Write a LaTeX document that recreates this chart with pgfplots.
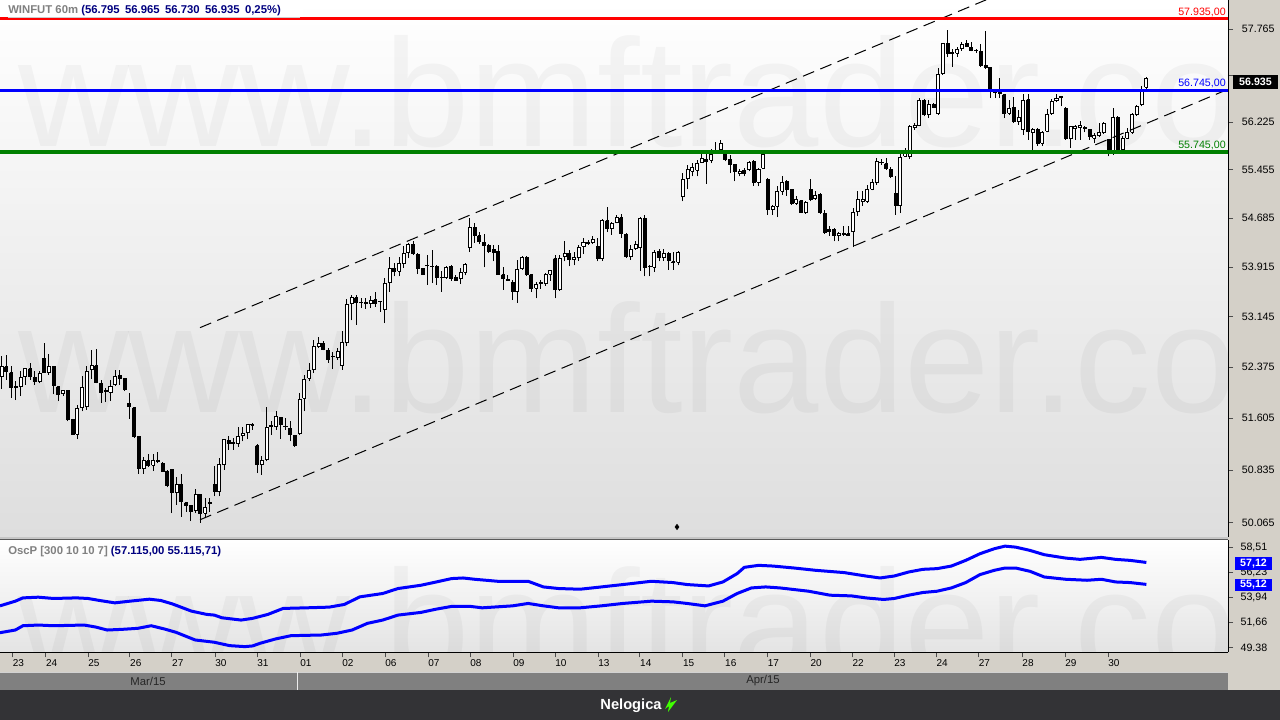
\documentclass[border=0pt]{standalone}
\usepackage{pgfplots}
\pgfplotsset{compat=1.18}
\usepackage{pgfplotstable}
\usepackage{fontspec}
\setmainfont{Liberation Sans}

\definecolor{panelgray}{RGB}{212,208,200}
\definecolor{chartbot}{RGB}{222,222,222}
\definecolor{oscbot}{RGB}{228,228,228}
\definecolor{monthbar}{RGB}{128,128,128}
\definecolor{footer}{RGB}{51,51,54}
\definecolor{navy}{RGB}{0,0,128}
\definecolor{titlegray}{RGB}{128,128,128}
\definecolor{lvlred}{RGB}{255,0,0}
\definecolor{lvlblue}{RGB}{0,0,255}
\definecolor{lvlgreen}{RGB}{0,128,0}

\newcommand\lbl{\fontsize{8}{9}\selectfont}
\newcommand\datelbl{\fontsize{7.5}{9}\selectfont}
\newcommand\wm{\fontsize{115}{115}\selectfont}

% WINFUT 60m candles: open high low close (one row per hour)
\pgfplotstableread{
o h l c
52.227 52.538 52.046 52.377
52.377 52.563 52.186 52.302
52.287 52.387 51.911 52.061
52.086 52.161 51.875 52.061
52.086 52.312 51.936 52.212
52.227 52.362 52.111 52.347
52.347 52.437 52.186 52.227
52.212 52.312 52.111 52.161
52.161 52.312 52.126 52.277
52.513 52.738 52.287 52.297
52.287 52.578 52.262 52.377
52.377 52.387 51.961 52.096
52.076 52.086 51.860 51.961
51.971 52.036 51.936 52.021
52.021 52.036 51.559 51.584
51.584 51.594 51.359 51.369
51.369 51.810 51.293 51.745
51.760 52.247 51.710 52.061
51.785 52.397 51.735 52.312
52.337 52.638 52.196 52.397
52.397 52.648 52.126 52.146
52.136 52.186 51.835 51.996
52.006 52.061 51.845 52.016
51.996 52.186 51.860 52.076
52.111 52.327 52.086 52.237
52.247 52.327 52.111 52.202
52.202 52.212 52.011 52.036
51.825 51.986 51.594 51.775
51.760 51.775 51.309 51.334
51.334 51.344 50.782 50.857
50.857 51.033 50.782 50.972
50.972 51.073 50.882 50.907
50.907 51.073 50.822 50.982
50.977 51.108 50.932 50.967
50.932 50.957 50.807 50.822
50.822 50.832 50.581 50.606
50.842 50.857 50.205 50.506
50.506 50.732 50.330 50.631
50.631 50.782 50.155 50.370
50.355 50.370 50.230 50.320
50.320 50.330 50.089 50.230
50.245 50.556 50.205 50.481
50.481 50.491 50.064 50.205
50.205 50.431 50.130 50.295
50.345 50.424 50.227 50.355
50.620 50.889 50.448 50.521
50.521 51.012 50.448 50.914
50.914 51.290 50.841 51.284
51.274 51.333 51.135 51.235
51.230 51.309 51.135 51.240
51.224 51.482 51.184 51.333
51.348 51.482 51.259 51.383
51.398 51.522 51.294 51.508
51.503 51.533 51.433 51.513
51.195 51.224 50.792 50.914
50.914 51.036 50.767 50.978
50.988 51.781 50.963 51.473
51.478 51.557 51.358 51.488
51.482 51.706 51.433 51.632
51.623 51.632 51.294 51.508
51.487 51.608 51.433 51.477
51.458 51.557 51.259 51.358
51.343 51.358 51.184 51.195
51.373 51.982 51.358 51.892
51.907 52.260 51.706 52.194
52.210 52.437 52.158 52.325
52.346 52.792 52.285 52.689
52.689 52.833 52.664 52.741
52.741 52.766 52.627 52.649
52.627 52.664 52.446 52.497
52.532 52.612 52.346 52.542
52.527 52.664 52.487 52.612
52.396 52.919 52.335 52.750
52.750 53.417 52.689 53.329
53.345 53.484 53.088 53.442
53.442 53.484 53.022 53.365
53.360 53.432 53.279 53.370
53.360 53.432 53.264 53.350
53.355 53.457 53.279 53.395
53.406 53.535 53.294 53.355
53.375 53.395 53.226 53.385
53.252 53.744 53.048 53.666
53.676 54.081 53.535 53.900
53.900 53.978 53.769 53.847
53.847 54.081 53.769 53.967
53.978 54.237 53.900 54.134
54.143 54.290 54.056 54.264
54.276 54.318 54.109 54.135
54.119 54.135 53.805 53.900
53.889 53.900 53.795 53.805
53.946 54.109 53.638 53.936
53.921 54.187 53.664 53.931
53.926 53.952 53.638 53.753
53.758 53.847 53.533 53.748
53.753 53.926 53.732 53.910
53.926 53.941 53.701 53.732
53.753 53.795 53.701 53.711
53.732 53.900 53.648 53.837
53.837 53.978 53.784 53.962
54.213 54.684 54.150 54.537
54.537 54.605 54.292 54.412
54.412 54.475 54.276 54.318
54.307 54.433 53.910 54.255
54.255 54.276 54.135 54.161
54.187 54.266 54.004 54.150
54.161 54.266 53.795 53.805
53.795 53.910 53.560 53.743
53.721 53.795 53.701 53.711
53.680 53.716 53.403 53.533
53.533 54.030 53.366 53.873
53.889 54.082 53.873 54.072
54.067 54.082 53.779 53.795
53.795 53.805 53.533 53.586
53.586 53.680 53.429 53.638
53.659 53.716 53.575 53.669
53.664 53.821 53.627 53.805
53.805 53.873 53.701 53.858
54.046 54.109 53.429 53.560
53.560 54.098 53.544 54.056
54.082 54.318 54.004 54.135
54.135 54.187 53.926 54.030
54.030 54.150 53.941 54.067
54.067 54.266 54.014 54.224
54.239 54.370 54.119 54.292
54.287 54.344 54.266 54.297
54.307 54.396 54.276 54.344
54.239 54.370 54.004 54.046
54.046 54.673 54.014 54.642
54.642 54.867 54.464 54.517
54.517 54.621 54.422 54.605
54.621 54.736 54.605 54.694
54.694 54.747 54.370 54.449
54.433 54.449 54.056 54.082
54.082 54.266 54.030 54.187
54.203 54.318 54.187 54.276
54.213 54.710 53.858 54.684
54.684 54.736 53.769 53.910
53.921 53.952 53.769 53.931
53.910 54.187 53.837 54.150
54.161 54.203 54.004 54.067
54.067 54.203 54.014 54.135
54.135 54.150 53.873 54.014
53.999 54.150 53.873 53.989
53.994 54.161 53.941 54.150
55.030 55.404 54.950 55.307
55.323 55.537 55.147 55.468
55.430 55.564 55.350 55.500
55.447 55.618 55.350 55.564
55.575 55.714 55.564 55.644
55.628 55.751 55.233 55.591
55.607 55.789 55.564 55.698
55.746 55.897 55.714 55.756
55.789 55.941 55.714 55.887
55.714 55.767 55.591 55.618
55.628 55.698 55.404 55.537
55.537 55.553 55.270 55.430
55.393 55.468 55.350 55.430
55.447 55.484 55.350 55.393
55.457 55.591 55.430 55.575
55.591 55.607 55.201 55.254
55.254 55.484 55.190 55.468
55.484 55.714 55.468 55.698
55.307 55.323 54.739 54.828
54.828 54.897 54.739 54.871
54.871 55.201 54.702 55.110
55.110 55.350 55.057 55.254
55.270 55.286 55.041 55.137
55.137 55.147 54.897 54.913
54.923 55.030 54.897 54.976
54.965 54.976 54.765 54.776
54.776 54.950 54.755 54.934
55.147 55.307 54.950 54.987
54.998 55.110 54.976 55.041
55.057 55.083 54.755 54.776
54.765 54.818 54.438 54.459
54.512 54.554 54.407 54.475
54.512 54.528 54.317 54.407
54.407 54.475 54.317 54.449
54.443 54.554 54.407 54.433
54.438 54.565 54.407 54.417
54.475 54.844 54.227 54.776
54.791 55.110 54.723 54.987
54.950 55.110 54.881 54.987
54.950 55.217 54.923 55.137
55.147 55.307 55.126 55.254
55.254 55.644 55.217 55.591
55.570 55.628 55.537 55.580
55.553 55.644 55.457 55.484
55.468 55.500 55.323 55.350
55.072 55.350 54.739 54.881
54.881 55.714 54.765 55.660
55.671 55.805 55.660 55.725
55.671 56.185 55.628 56.147
56.131 56.212 56.104 56.169
56.169 56.620 56.158 56.581
56.581 56.608 56.321 56.348
56.348 56.581 56.294 56.511
56.511 56.538 56.456 56.473
56.364 57.115 56.348 57.005
57.021 57.528 57.005 57.517
57.517 57.751 57.296 57.362
57.357 57.428 57.142 57.367
57.362 57.462 57.307 57.417
57.445 57.540 57.406 57.501
57.517 57.584 57.462 57.473
57.462 57.540 57.390 57.406
57.401 57.428 57.362 57.411
57.390 57.517 57.142 57.153
57.153 57.740 57.098 57.131
57.131 57.142 56.620 56.730
56.718 56.757 56.620 56.708
56.691 56.950 56.620 56.713
56.675 56.691 56.294 56.375
56.375 56.592 56.348 56.456
56.473 56.636 56.212 56.239
56.239 56.429 56.185 56.310
56.104 56.691 56.022 56.581
56.592 56.691 55.941 56.077
56.060 56.131 55.778 56.104
56.104 56.131 55.843 55.887
55.887 56.077 55.843 56.060
56.077 56.440 56.060 56.348
56.375 56.608 56.348 56.565
56.576 56.691 56.549 56.620
56.631 56.647 56.483 56.641
56.456 56.473 55.941 55.968
55.968 56.169 55.805 56.158
56.125 56.185 55.941 56.158
56.131 56.239 55.941 56.180
56.136 56.158 56.060 56.126
56.104 56.114 55.941 55.995
55.968 56.049 55.887 56.006
56.006 56.212 55.984 56.060
56.060 56.223 56.038 56.201
55.941 55.952 55.671 55.789
55.714 56.456 55.698 56.310
56.310 56.321 55.778 55.789
55.789 56.006 55.767 55.968
55.968 56.131 55.952 56.060
56.060 56.375 56.038 56.348
56.348 56.511 56.331 56.483
56.511 56.812 56.483 56.768
56.795 56.965 56.730 56.935
}\candles

% collect wicks and bodies as jump-separated coordinate lists
\pgfplotstablegetrowsof{\candles}
\pgfmathtruncatemacro\lastrow{\pgfplotsretval-1}
\gdef\wicks{}\gdef\upbodies{}\gdef\dnbodies{}
\foreach \ri in {0,...,\lastrow}{%
  \pgfplotstablegetelem{\ri}{o}\of\candles\let\vO\pgfplotsretval
  \pgfplotstablegetelem{\ri}{h}\of\candles\let\vH\pgfplotsretval
  \pgfplotstablegetelem{\ri}{l}\of\candles\let\vL\pgfplotsretval
  \pgfplotstablegetelem{\ri}{c}\of\candles\let\vC\pgfplotsretval
  \pgfmathsetmacro\xa{\ri-0.32}%
  \pgfmathsetmacro\xb{\ri+0.32}%
  \xdef\wicks{\wicks (\ri,\vL) (\ri,\vH) (\ri,nan)}%
  \pgfmathtruncatemacro\isdn{\vC<\vO ? 1 : 0}%
  \ifnum\isdn=1
    \xdef\dnbodies{\dnbodies (\xa,\vO) (\xb,\vO) (\xb,\vC) (\xa,\vC) (\xa,\vO) (\xa,nan)}%
  \else
    \xdef\upbodies{\upbodies (\xa,\vO) (\xb,\vO) (\xb,\vC) (\xa,\vC) (\xa,\vO) (\xa,nan)}%
  \fi
}

\begin{document}
\begin{tikzpicture}[x=0.75pt,y=-0.75pt]
\useasboundingbox (0,0) rectangle (1280,720);
% backgrounds
\fill[panelgray] (0,0) rectangle (1280,690);
\shade[top color=white, bottom color=chartbot] (0,0) rectangle (1228,537);
\shade[top color=white, bottom color=oscbot] (0,540) rectangle (1228,652);
\fill[gray!45] (0,536.5) rectangle (1228,538.5);
\fill[black!65] (0,538.5) rectangle (1228,540);
\fill[monthbar] (0,672) rectangle (1228,690);
\draw[gray!35, line width=0.75pt] (0,672.5) -- (1228,672.5);
\draw[white!85!gray, line width=0.75pt] (297.5,672) -- (297.5,690);
\fill[footer] (0,690) rectangle (1280,720);

% watermark
\begin{scope}
\clip (0,0) rectangle (1228,537);
\node[anchor=base west, inner sep=0pt, text=black, text opacity=0.035, font=\wm] at (18,147) {www.bmftrader.com};
\node[anchor=base west, inner sep=0pt, text=black, text opacity=0.035, font=\wm] at (18,412) {www.bmftrader.com};
\end{scope}
\begin{scope}
\clip (0,540) rectangle (1228,652);
\node[anchor=base west, inner sep=0pt, text=black, text opacity=0.035, font=\wm] at (18,677) {www.bmftrader.com};
\end{scope}

% price panel
\begin{axis}[
  at={(0pt,0pt)}, anchor=north west, scale only axis,
  width=921pt, height=402.75pt,
  xmin=-0.359, xmax=259.26,
  ymode=log, ymin=49.862, ymax=58.255,
  axis x line=none, axis y line*=right,
  axis line style={black, line width=0.75pt},
  xtick=\empty,
  ytick={50.065,50.835,51.605,52.375,53.145,53.915,54.685,55.455,56.225,56.995,57.765},
  yticklabels={50.065,50.835,51.605,52.375,53.145,53.915,54.685,55.455,56.225,{},57.765},
  tick align=outside, major tick length=3.75pt,
  ytick style={black!70, line width=0.75pt},
  minor y tick style={draw=none},
  yticklabel style={font=\lbl, anchor=west, inner sep=0pt, xshift=6.5pt},
]
\edef\tmp{\noexpand\addplot[black, line width=0.75pt, mark=none, unbounded coords=jump] coordinates {\wicks};}\tmp
\edef\tmp{\noexpand\addplot[draw=black, fill=white, line width=0.75pt, mark=none, unbounded coords=jump] coordinates {\upbodies};}\tmp
\edef\tmp{\noexpand\addplot[draw=black, fill=black, line width=0.75pt, mark=none, unbounded coords=jump] coordinates {\dnbodies};}\tmp
% trend channel
\addplot[black, line width=0.75pt, dash pattern=on 9pt off 5pt] coordinates {(41.93,52.976) (208.14,58.255)};
\addplot[black, line width=0.75pt, dash pattern=on 9pt off 5pt] coordinates {(41.93,50.108) (259.26,56.765)};
% levels
\addplot[lvlred, line width=2.25pt] coordinates {(-0.359,57.935) (259.26,57.935)};
\addplot[lvlblue, line width=2.6pt] coordinates {(-0.359,56.745) (259.26,56.745)};
\addplot[lvlgreen, line width=2.6pt] coordinates {(-0.359,55.745) (259.26,55.745)};
\addplot[only marks, mark=diamond*, mark size=2pt, black] coordinates {(142.77,50.006)};
\node[anchor=base east, inner sep=0pt, yshift=2.6pt, text=lvlred, font=\lbl] at (axis cs:258.84,57.935) {57.935,00};
\node[anchor=base east, inner sep=0pt, yshift=2.8pt, text=lvlblue, font=\lbl] at (axis cs:258.84,56.745) {56.745,00};
\node[anchor=base east, inner sep=0pt, yshift=2.8pt, text=lvlgreen, font=\lbl] at (axis cs:258.84,55.745) {55.745,00};
\end{axis}

% oscillator panel
\begin{axis}[
  at={(0pt,-405pt)}, anchor=north west, scale only axis,
  width=921pt, height=84.2pt,
  xmin=-0.359, xmax=259.26, ymin=48.93, ymax=59.16,
  axis x line*=bottom, axis y line*=right,
  axis line style={black, line width=0.75pt},
  tick align=outside, major tick length=3.75pt,
  tick style={black!70, line width=0.75pt},
  xtick={2.30,9.34,18.25,27.12,36.00,45.10,53.98,63.07,71.95,81.04,90.13,99.01,108.10,116.98,126.07,134.94,144.01,152.91,161.90,170.95,179.83,188.67,197.59,206.53,215.75,224.80,233.90},
  xticklabels={23,24,25,26,27,30,31,01,02,06,07,08,09,10,13,14,15,16,17,20,22,23,24,27,28,29,30},
  xticklabel style={font=\datelbl, anchor=north west, inner sep=0pt, yshift=-1.2pt},
  ytick={49.38,51.66,53.94,56.23,58.51},
  yticklabels={49.38,{51,66},{53,94},{56,23},{58,51}},
  yticklabel style={font=\lbl, anchor=west, inner sep=0pt, xshift=5.5pt},
]
\addplot[lvlblue, line width=2.25pt] coordinates {
(-0.36,53.161) (2.88,53.587) (4.50,53.886) (7.74,53.950) (10.97,53.832) (15.81,53.886)
(18.25,53.832) (20.68,53.651) (23.91,53.433) (27.12,53.587) (31.21,53.768) (33.62,53.651)
(36.05,53.342) (40.11,52.680) (43.34,52.381) (44.95,52.318) (46.57,52.073) (50.61,51.865)
(53.04,52.019) (56.28,52.381) (59.51,52.925) (64.38,52.980) (69.22,53.043) (72.45,53.288)
(75.69,53.977) (80.55,54.285) (83.78,54.738) (88.65,55.038) (91.88,55.337) (95.11,55.645)
(97.55,55.700) (99.98,55.582) (104.82,55.400) (111.29,55.400) (114.52,54.884) (117.76,54.738)
(122.26,54.675) (126.79,54.884) (131.33,55.101) (137.36,55.400) (141.90,55.282) (144.90,55.101)
(149.45,54.974) (152.47,55.337) (155.48,56.098) (157.00,56.670) (160.02,56.851) (163.04,56.787)
(167.57,56.606) (172.09,56.398) (178.14,56.189) (182.66,55.881) (185.69,55.700) (188.71,55.881)
(191.73,56.243) (194.76,56.488) (197.76,56.552) (200.78,56.787) (203.81,57.304) (206.83,57.912)
(209.85,58.365) (212.11,58.601) (214.38,58.510) (217.40,58.211) (220.42,57.821) (224.94,57.513)
(227.97,57.395) (232.49,57.576) (235.52,57.395) (238.54,57.304) (242,57.115)
};
\addplot[lvlblue, line width=2.25pt] coordinates {
(-0.36,50.713) (2.88,50.958) (4.50,51.348) (7.74,51.411) (10.97,51.348) (17.44,51.411)
(19.87,51.230) (22.30,50.958) (25.54,51.021) (28.77,51.112) (31.61,51.348) (34.44,51.048)
(36.85,50.749) (40.91,50.051) (44.95,49.843) (48.18,49.535) (51.42,49.444) (53.04,49.507)
(54.65,49.752) (57.89,50.142) (61.14,50.441) (67.61,50.504) (70.85,50.659) (74.08,50.958)
(77.31,51.565) (80.55,51.865) (83.78,52.318) (88.65,52.563) (91.88,52.862) (95.11,53.107)
(99.15,53.107) (101.59,52.980) (108.05,53.161) (111.29,53.379) (114.52,53.161) (117.76,52.980)
(122.26,52.980) (126.79,53.161) (131.33,53.379) (137.36,53.587) (141.90,53.524) (144.90,53.379)
(148.69,53.161) (152.47,53.587) (155.48,54.285) (158.50,54.793) (161.52,54.884) (164.55,54.793)
(170.59,54.494) (175.12,54.131) (179.64,54.068) (182.66,53.886) (186.45,53.741) (188.71,53.832)
(191.73,54.131) (194.76,54.376) (197.76,54.494) (200.78,54.793) (203.81,55.282) (206.83,56.008)
(209.85,56.398) (212.11,56.606) (214.38,56.606) (217.40,56.307) (220.42,55.790) (224.94,55.582)
(229.47,55.491) (232.49,55.582) (235.52,55.337) (238.54,55.282) (242,55.116)
};
\end{axis}

% titles
\fill[white] (0,0) rectangle (303,17);
\draw[gray!40, line width=0.75pt] (8,17.5) -- (300,17.5);
\node[anchor=base west, inner sep=0pt, font=\fontsize{8.5}{10}\selectfont\bfseries] at (8,13.5)
  {\textcolor{titlegray}{WINFUT 60m} \textcolor{navy}{(56.795\hspace{4pt}56.965\hspace{4pt}56.730\hspace{4pt}56.935\hspace{4pt}0,25\%)}};
\node[anchor=base west, inner sep=0pt, font=\fontsize{8.5}{10}\selectfont\bfseries] at (8,554.5)
  {\textcolor{titlegray}{OscP [300 10 10 7]} \textcolor{navy}{(57.115,00 55.115,71)}};

% last value boxes
\fill[black] (1233,75) rectangle (1278,89);
\node[text=white, inner sep=0pt, font=\lbl\bfseries] at (1255.5,82) {56.935};
\fill[lvlblue] (1235,557) rectangle (1272,569.5);
\node[text=white, inner sep=0pt, font=\lbl\bfseries] at (1253.5,563.3) {57,12};
\fill[lvlblue] (1235,578.5) rectangle (1272,591);
\node[text=white, inner sep=0pt, font=\lbl\bfseries] at (1253.5,584.8) {55,12};

% month bar and footer
\node[text=black!85, inner sep=0pt, font=\fontsize{8.5}{10}\selectfont] at (148,681) {Mar/15};
\node[text=black!85, inner sep=0pt, font=\fontsize{8.5}{10}\selectfont] at (763,681) {Apr/15};
\node[text=white, inner sep=0pt, font=\fontsize{11}{12}\selectfont\bfseries] at (631,706) {Nelogica};
\fill[green!75!yellow] (665,709) -- (671,697) -- (670,703) -- (677,700) -- (668,712) -- (669,706) -- cycle;
\end{tikzpicture}
\end{document}
